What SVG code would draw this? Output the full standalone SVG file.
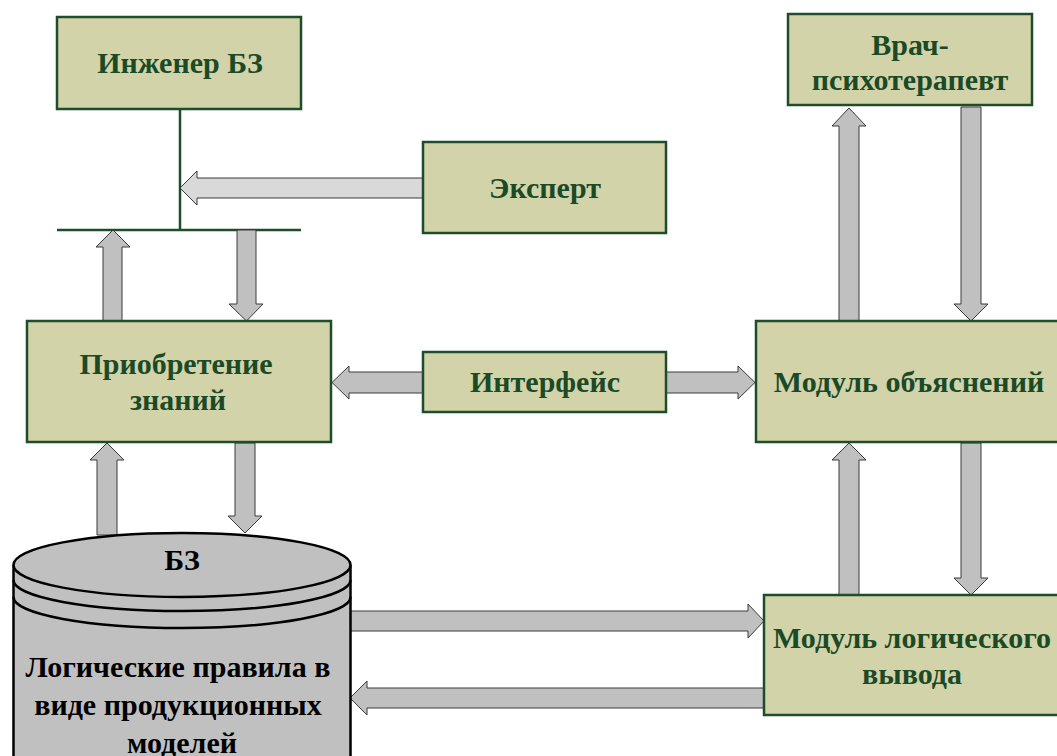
<svg xmlns="http://www.w3.org/2000/svg" width="1057" height="756" viewBox="0 0 1057 756">
<style>
.box{fill:#d3d3aa;stroke:#1e4d2b;stroke-width:2.5}
.t{font-family:"Liberation Serif",serif;font-weight:bold;font-size:30px;fill:#1b4a27;text-anchor:middle}
.tb{font-family:"Liberation Serif",serif;font-weight:bold;font-size:30px;fill:#000;text-anchor:middle}
.ar{fill:#c0c0c0;stroke:#3a3a3a;stroke-width:1}
.arl{fill:#d9d9d9;stroke:#3a3a3a;stroke-width:1}
.ln{stroke:#1e4d2b;stroke-width:2.5;fill:none}
.cyl{fill:#c0c0c0;stroke:#000;stroke-width:2.5}
</style>
<rect width="1057" height="756" fill="#fff"/>
<g id="connectors">
<line class="ln" x1="180" y1="109" x2="180" y2="230"/>
<line class="ln" x1="57" y1="230" x2="301" y2="230"/>
<polygon class="arl" points="423,178 197,178 197,171 180,188 197,205 197,198 423,198"/>
<polygon class="ar" points="103,321 103,247 96,247 113,230 130,247 122,247 122,321"/>
<polygon class="ar" points="237,230 256,230 256,304 263,304 246.5,321 229,304 237,304"/>
<polygon class="ar" points="423,372 349,372 349,366 332,382.5 349,399 349,393 423,393"/>
<polygon class="ar" points="666,372 738,372 738,366 755,382.5 738,399 738,393 666,393"/>
<polygon class="ar" points="839,321 839,126 832,126 849,108 866,126 859,126 859,321"/>
<polygon class="ar" points="961,107 981,107 981,304 988,304 971,321 954,304 961,304"/>
<polygon class="ar" points="839,595 839,460 832,460 849,443 866,460 859,460 859,595"/>
<polygon class="ar" points="961,443 981,443 981,578 988,578 971,595 954,578 961,578"/>
<polygon class="ar" points="97,535 97,460 90,460 107,443 124,460 117,460 117,535"/>
<polygon class="ar" points="235,443 255,443 255,516 262,516 245,533 228,516 235,516"/>
<polygon class="ar" points="350,611 748,611 748,604 764,621 748,638 748,631 350,631"/>
<polygon class="ar" points="764,688 367,688 367,681 350,698 367,715 367,708 764,708"/>
</g>
<g id="engineer">
<rect class="box" x="57" y="17" width="244" height="92"/>
<text class="t" x="180" y="73">Инженер БЗ</text>
</g>
<g id="expert">
<rect class="box" x="423" y="142" width="243" height="91"/>
<text class="t" x="545" y="198">Эксперт</text>
</g>
<g id="doctor">
<rect class="box" x="788" y="14" width="244" height="91"/>
<text class="t" x="910" y="55">Врач-</text>
<text class="t" x="910" y="90">психотерапевт</text>
</g>
<g id="acquisition">
<rect class="box" x="27" y="321" width="304" height="121"/>
<text class="t" x="176" y="374">Приобретение</text>
<text class="t" x="178" y="410">знаний</text>
</g>
<g id="interface">
<rect class="box" x="423" y="352" width="243" height="60"/>
<text class="t" x="545" y="392">Интерфейс</text>
</g>
<g id="explanation">
<rect class="box" x="756" y="321" width="320" height="121"/>
<text class="t" x="909" y="392">Модуль объяснений</text>
</g>
<g id="inference">
<rect class="box" x="764" y="595" width="320" height="120"/>
<text class="t" x="912" y="648">Модуль логического</text>
<text class="t" x="912" y="684">вывода</text>
</g>
<g id="kb">
<path class="cyl" d="M13.5,565 L13.5,790 L350.5,790 L350.5,565 A168.5,32 0 0 0 13.5,565 Z"/>
<path class="cyl" d="M13.5,565 A168.5,32 0 0 0 350.5,565"/>
<path class="ln" style="stroke:#000" d="M13.5,580 A168.5,31 0 0 0 350.5,580"/>
<path class="ln" style="stroke:#000" d="M13.5,597 A168.5,31 0 0 0 350.5,597"/>
<text class="tb" x="182" y="570">БЗ</text>
<text class="tb" x="178" y="677">Логические правила в</text>
<text class="tb" x="178" y="715">виде продукционных</text>
<text class="tb" x="182" y="753">моделей</text>
</g>
</svg>
